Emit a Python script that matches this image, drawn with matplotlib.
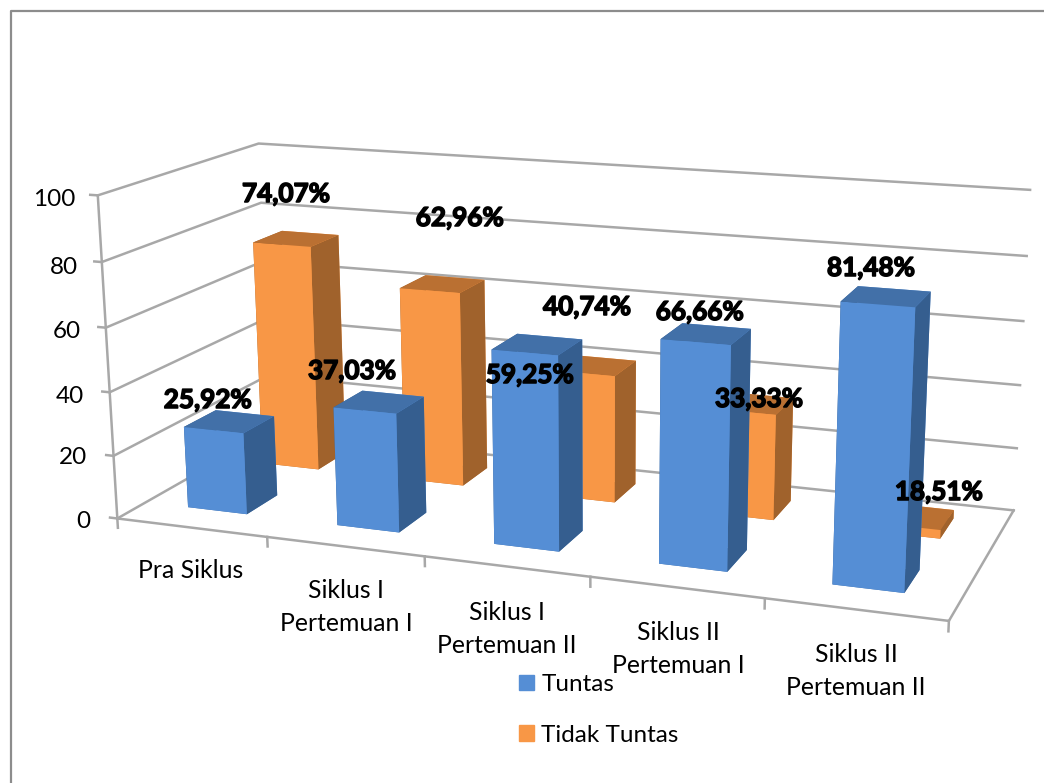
import numpy as np
import matplotlib
matplotlib.use('Agg')
import matplotlib.pyplot as plt
import matplotlib.patheffects as pe
from matplotlib.lines import Line2D
from matplotlib.patches import Patch

# Data
categories = ['Pra Siklus', 'Siklus I\nPertemuan I', 'Siklus I\nPertemuan II',
              'Siklus II\nPertemuan I', 'Siklus II\nPertemuan II']
tuntas = [25.92, 37.03, 59.25, 66.66, 81.48]
# last bar is drawn very short in the picture although its label says 18,51%
tidak_tuntas = [74.07, 62.96, 40.74, 33.33, 2.7]
tuntas_labels = ['25,92%', '37,03%', '59,25%', '66,66%', '81,48%']
tidak_tuntas_labels = ['74,07%', '62,96%', '40,74%', '33,33%', '18,51%']
z_ticks = [0, 20, 40, 60, 80, 100]

# Label places in picture pixels (centres)
tuntas_label_xy = [(208, 400), (352, 371), (530, 375), (700, 312), (871, 268)]
tidak_label_xy = [(286, 194), (460, 218), (587, 307), (759, 399), (939, 492)]
cat_label_xy = [(191, 571), (346, 607), (507, 629), (678, 649), (856, 671)]
z_label_xy = [(90, 522), (87, 458), (84, 396), (81, 332), (78, 267), (75, 199)]

W, H = 1044, 783

# Camera: world point (category, depth, value) -> picture pixel
world = np.array([
    (0, 0, 0), (0, 0, 20), (0, 0, 40), (0, 0, 60), (0, 0, 80), (0, 0, 100),
    (0, 1, 100), (0, 1, 80), (0, 1, 0),
    (5, 1, 100), (5, 1, 60), (5, 1, 0),
    (5, 0, 0), (1, 0, 0), (2, 0, 0), (3, 0, 0), (4, 0, 0)], dtype=float)
pixel = np.array([
    (116, 518), (113, 455), (110, 393), (106, 327), (103, 262), (98, 196),
    (258, 143), (260, 203), (272, 432),
    (1030, 190), (1024, 321), (1013, 510),
    (949, 621), (267, 537), (425, 557), (590, 577), (765, 598)], dtype=float)


def solve_camera(world, pixel):
    rows = []
    for (x, y, z), (u, v) in zip(world, pixel):
        v = H - v
        rows.append([x, y, z, 1, 0, 0, 0, 0, -u * x, -u * y, -u * z, -u])
        rows.append([0, 0, 0, 0, x, y, z, 1, -v * x, -v * y, -v * z, -v])
    p = np.linalg.svd(np.array(rows))[2][-1].reshape(3, 4)
    if p[2] @ np.array([2.5, 0.5, 50, 1]) < 0:
        p = -p
    return p


fig = plt.figure(figsize=(W / 100, H / 100), dpi=100)
ax = fig.add_axes([0, -(W - H) / 2 / H, 1, W / H], projection='3d', computed_zorder=False)
ax.set_axis_off()
ax.patch.set_alpha(0)

P = solve_camera(world, pixel)
x0, x1 = ax.viewLim.intervalx
y0, y1 = ax.viewLim.intervaly
# matrix that goes from world to the 2D limits of the axes
M = np.array([
    x0 * P[2] + P[0] / W * (x1 - x0),
    y0 * P[2] + (P[1] + (W - H) / 2 * P[2]) / W * (y1 - y0),
    [0, 0, 0, -1],
    P[2]])
ax.get_proj = lambda: M

grid_color = '#a8a8a8'
grid_lw = 1.8

# walls and floor
for z in z_ticks:
    ax.plot([0, 0, 5], [0, 1, 1], [z, z, z], color=grid_color, lw=grid_lw, zorder=1)
    ax.plot([-0.05, 0], [0, 0], [z, z], color=grid_color, lw=grid_lw, zorder=1)
ax.plot([0, 0], [0, 0], [0, 100], color=grid_color, lw=grid_lw, zorder=1)
ax.plot([0, 5, 5], [0, 0, 1], [0, 0, 0], color=grid_color, lw=grid_lw, zorder=1)
for i in range(6):
    ax.plot([i, i], [0, 0], [0, -3], color=grid_color, lw=grid_lw, zorder=1)

# faces: bottom, top, front, back, left, right
blue_faces = ['#4270a8', '#4270a8', '#558ed5', '#558ed5', '#355e8f', '#355e8f']
orange_faces = ['#ba7032', '#ba7032', '#f89746', '#f89746', '#a0622c', '#a0622c']
bar_x = 0.29
bar_w = 0.40
bar_d = 0.20

for i, v in enumerate(tidak_tuntas):
    ax.bar3d(i + bar_x, 0.66, 0, bar_w, bar_d, v, color=orange_faces, shade=False,
             linewidth=0, zorder=2 + i * 0.01)
for i, v in enumerate(tuntas):
    ax.bar3d(i + bar_x, 0.17, 0, bar_w, bar_d, v, color=blue_faces, shade=False,
             linewidth=0, zorder=3 + i * 0.01)


def put(xy, s, **kw):
    return fig.text(xy[0] / W, 1 - xy[1] / H, s, family='Lato', color='black', **kw)


for xy, s in zip(tuntas_label_xy + tidak_label_xy, tuntas_labels + tidak_tuntas_labels):
    t = put(xy, s, fontsize=18.8, fontweight='bold', ha='center', va='center')
    t.set_path_effects([pe.withStroke(linewidth=1.1, foreground='black')])
for xy, s in zip(cat_label_xy, categories):
    put(xy, s, fontsize=17.8, ha='center', va='center', linespacing=1.57, multialignment='center')
for xy, z in zip(z_label_xy, z_ticks):
    put(xy, str(z), fontsize=17.5, ha='right', va='center')

fig.legend(handles=[Patch(color='#558ed5'), Patch(color='#f89746')],
           labels=['Tuntas', 'Tidak Tuntas'], loc='upper left',
           bbox_to_anchor=(519 / W, 1 - 674 / H), frameon=False,
           prop={'family': 'Lato', 'size': 17.5}, handlelength=0.62, handleheight=0.62,
           handletextpad=0.3, labelspacing=1.22, borderpad=0, borderaxespad=0)

# outer border, open on the right and at the bottom
fig.add_artist(Line2D([11 / W, 11 / W, 1], [0, 1 - 11 / H, 1 - 11 / H], color='#8c8c8c', lw=1.6))

fig.savefig('out.png', dpi=100)
